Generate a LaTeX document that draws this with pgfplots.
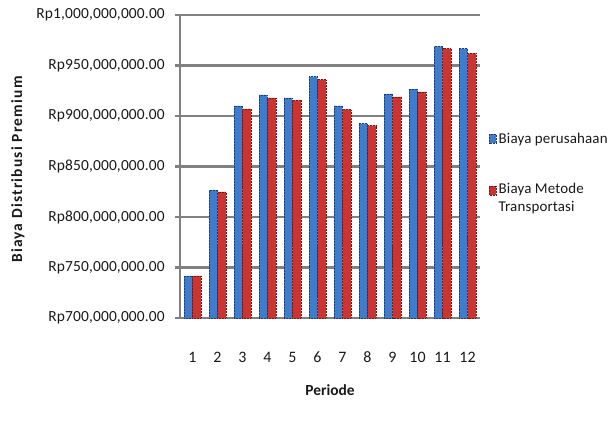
\documentclass[border=0pt]{standalone}
\usepackage{pgfplots}
\pgfplotsset{compat=1.18}
\usepackage{fontspec}
\setmainfont{Carlito}
\newfontfamily\tickfont[LetterSpace=1]{Carlito}
\newfontfamily\labfont[LetterSpace=8]{Carlito}
\definecolor{barblue}{RGB}{62,124,206}
\definecolor{barblueedge}{RGB}{30,60,120}
\definecolor{barred}{RGB}{204,52,50}
\definecolor{barrededge}{RGB}{110,25,25}
\definecolor{gridgray}{RGB}{128,128,128}
\definecolor{txt}{RGB}{25,25,25}
\begin{document}
\begin{tikzpicture}
\useasboundingbox (-180bp,-105bp) rectangle (428bp,318bp);
\begin{axis}[
  at={(0,0)}, anchor=south west,
  scale only axis, width=300bp, height=303bp,
  /pgf/number format/assume math mode=true,
  ybar=0pt, bar width=8.3bp,
  xmin=0.5, xmax=12.5,
  ymin=700000000, ymax=1000000000,
  xtick={1,...,12}, xtick style={draw=none},
  ytick={700000000,750000000,800000000,850000000,900000000,950000000,1000000000},
  yticklabels={{Rp700,000,000.00},{Rp750,000,000.00},{Rp800,000,000.00},{Rp850,000,000.00},{Rp900,000,000.00},{Rp950,000,000.00},{Rp1,000,000,000.00}},
  ytick style={draw=gridgray, line width=2.2bp},
  tick align=outside, major tick length=5bp,
  scaled y ticks=false,
  axis x line*=bottom, axis y line*=left,
  axis line style={draw=gridgray, line width=2.2bp, -},
  ymajorgrids, grid style={draw=gridgray, line width=2.8bp},
  yticklabel style={font=\tickfont\fontsize{15.5}{17}\selectfont, text=txt, anchor=east, inner sep=0pt, xshift=-10bp},
  xticklabel style={font=\tickfont\fontsize{16}{18}\selectfont, text=txt, anchor=center, inner sep=0pt, yshift=-34bp},
  xlabel={\bfseries Periode},
  ylabel={\labfont\bfseries Biaya Distribusi Premium},
  xlabel style={font=\fontsize{15.5}{17}\selectfont, text=txt, at={(axis description cs:0.5,-0.2376)}, anchor=center},
  ylabel style={font=\fontsize{15.5}{17}\selectfont, text=txt, at={(axis description cs:-0.54,0.49)}, anchor=center, rotate=0},
  legend style={at={(1.02,0.625)}, anchor=north west, draw=none, fill=none,
    font=\tickfont\fontsize{15}{22}\selectfont, text=txt, row sep=39bp,
    cells={anchor=west, align=left}},
  legend image code/.code={\fill[#1] (-2bp,-4.5bp) rectangle (5bp,4.5bp);},
  clip=false,
]
\addplot[fill=barblue, draw=barblueedge, densely dotted, line width=0.5bp] coordinates {
(1,741600000) (2,826700000) (3,910000000) (4,921000000) (5,918000000) (6,939000000)
(7,910000000) (8,892500000) (9,922000000) (10,926700000) (11,969000000) (12,966600000)};
\addlegendentry{Biaya perusahaan}
\addplot[fill=barred, draw=barrededge, densely dotted, line width=0.5bp] coordinates {
(1,741600000) (2,824800000) (3,907000000) (4,918000000) (5,915500000) (6,936000000)
(7,906500000) (8,890500000) (9,919000000) (10,923800000) (11,966600000) (12,962000000)};
\addlegendentry{\smash{\raisebox{-4bp}{\begin{tabular}[t]{@{}l@{}}Biaya Metode\\[-4bp]Transportasi\end{tabular}}}}
\end{axis}
\end{tikzpicture}
\end{document}
